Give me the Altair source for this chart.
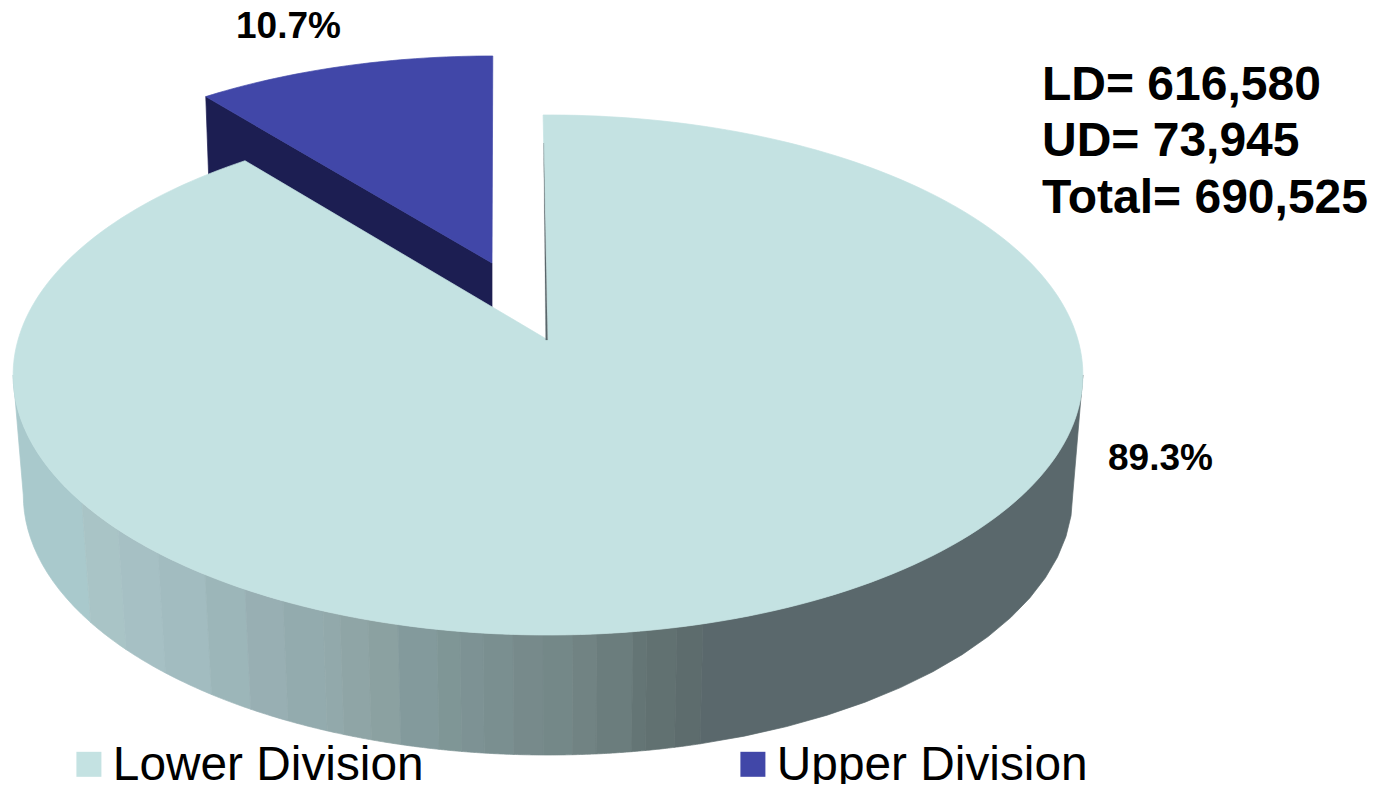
import numpy as np
import pandas as pd
import altair as alt

# ---- values
divisions = ["Lower Division", "Upper Division"]
short_names = ["LD", "UD"]
counts = [616580, 73945]
top_colors = ["#c4e2e2", "#4147a8"]
ud_wall_color = "#1c1e52"
cut_color = "#5a686c"
wall_edges = [12, 82, 118, 158, 205, 245, 283, 323, 340, 368, 398, 437, 460, 483,
              513, 543, 573, 597, 633, 647, 677, 703, 1090]
wall_shades = ["#a9c9cc", "#a9c4c6", "#a6c0c4", "#a2bcc0", "#9cb6b9", "#98afb3", "#93abae",
               "#92a9ab", "#8fa5a6", "#8ba1a1", "#839a9c", "#7f9696", "#7d9294", "#7a8f90",
               "#778a8b", "#748888", "#718383", "#6b7d7d", "#647575", "#617171", "#5d6c6d",
               "#5a686c"]

total = sum(counts)
shares = [c / total for c in counts]

# ---- perspective model of the disc (pixel units of the reference image)
K = 0.1346          # perspective foreshortening of the disc
A = 255.3           # depth radius
B = 530.0           # width radius
APEX = (548.0, 340.0)
DEPTH = 120.0
BOTTOM_SHRINK = 0.981
START = np.radians(-0.6)
UD_ROTATE = np.radians(0.7)


def disc(theta, apex=APEX, fx=1.0, fy=1.0):
    den = 1 + K * np.cos(theta)
    return apex[0] + fx * B * np.sin(theta) / den, apex[1] - fy * A * np.cos(theta) / den


def polygon(name, xs, ys, fill):
    return pd.DataFrame({"shape": name, "i": np.arange(len(xs)), "x": xs, "y": ys, "fill": fill})


sweep_ld = shares[0] * 2 * np.pi
ud_end = START + 2 * np.pi + UD_ROTATE
ud_start = START + sweep_ld + UD_ROTATE

# side wall of the lower division
limit = np.arccos(-K)
fine = np.linspace(limit, 2 * np.pi - limit, 2000)
fine_x, _ = disc(fine)
walls = []
for n, shade in enumerate(wall_shades):
    # facet edges are given in x, run left to right: theta falls as x grows
    t_hi = np.interp(wall_edges[n], fine_x[::-1], fine[::-1])
    t_lo = np.interp(wall_edges[n + 1], fine_x[::-1], fine[::-1])
    t = np.linspace(t_lo, t_hi, 16)
    xt, yt = disc(t)
    xb, yb = disc(t[::-1], apex=(APEX[0], APEX[1] + DEPTH), fx=BOTTOM_SHRINK)
    walls.append(polygon(f"wall{n:02d}", np.r_[xt, xb], np.r_[yt, yb], shade))
walls = pd.concat(walls)

# top face of lower division
t = np.linspace(START, START + sweep_ld, 240)
xt, yt = disc(t)
ld_top = polygon("ld", np.r_[APEX[0], xt], np.r_[APEX[1], yt], top_colors[0])
ld_top["division"] = divisions[0]

# exploded upper division
UD_APEX = (492.0, 263.0)
UD_FX, UD_FY = 0.96, 0.92
UD_DEPTH = 44.0
t = np.linspace(ud_start, ud_end, 40)
xt, yt = disc(t, apex=UD_APEX, fx=UD_FX, fy=UD_FY)
ud_top = polygon("ud", np.r_[UD_APEX[0], xt], np.r_[UD_APEX[1], yt], top_colors[1])
ud_top["division"] = divisions[1]
xl, yl = disc(np.array([ud_start]), apex=UD_APEX, fx=UD_FX, fy=UD_FY)
ud_wall = polygon("udw",
                  [xl[0], UD_APEX[0], UD_APEX[0], xl[0] + 3],
                  [yl[0], UD_APEX[1], UD_APEX[1] + UD_DEPTH + 3, yl[0] + 83],
                  ud_wall_color)

# the thin inner cut face
cut = polygon("cut", [543.6, 547.6, 545.7], [143, 340, 340], cut_color)

X = alt.X("x:Q", axis=None, scale=alt.Scale(domain=[8, 1379], nice=False, zero=False))
Y = alt.Y("y:Q", axis=None, scale=alt.Scale(domain=[784, 8], nice=False, zero=False))


def poly_layer(df, width=0.7):
    return alt.Chart(df).mark_line(strokeWidth=width, interpolate="linear-closed").encode(
        x=X, y=Y, order="i:Q", detail="shape:N",
        fill=alt.Fill("fill:N", scale=None),
        stroke=alt.Stroke("fill:N", scale=None),
    )


top_scale = alt.Scale(domain=divisions, range=top_colors)
legend = alt.Legend(
    title=None, orient="none", legendX=57, legendY=734, direction="horizontal", columns=2,
    columnPadding=305, symbolType="M-1,-1.14H1V0.86H-1Z", symbolSize=625, symbolStrokeWidth=0,
    labelFontSize=47.8, labelFont="Liberation Sans", labelColor="#000000", labelLimit=600,
    labelOffset=0, padding=0,
)


def top_layer(df):
    return alt.Chart(df).mark_line(strokeWidth=0.7, interpolate="linear-closed").encode(
        x=X, y=Y, order="i:Q", detail="shape:N",
        fill=alt.Fill("division:N", scale=top_scale, legend=legend),
        stroke=alt.Stroke("division:N", scale=top_scale, legend=None),
    )


labels = pd.DataFrame({
    "x": [236, 1108],
    "y": [38, 470],
    "text": [f"{shares[1] * 100:.1f}%", f"{shares[0] * 100:.1f}%"],
})
totals = pd.DataFrame({
    "x": [1042, 1042, 1042],
    "y": [100, 156, 213],
    "text": [f"{short_names[0]}= {counts[0]:,}", f"{short_names[1]}= {counts[1]:,}", f"Total= {total:,}"],
})


def text_layer(df, size):
    return alt.Chart(df).mark_text(
        font="Liberation Sans", fontWeight="bold", fontSize=size, align="left",
        baseline="alphabetic", color="#000000",
    ).encode(x=X, y=Y, text="text:N")


chart = alt.layer(
    poly_layer(ud_wall),
    top_layer(ud_top),
    poly_layer(walls),
    top_layer(ld_top),
    poly_layer(cut, 0.2),
    text_layer(labels, 37),
    text_layer(totals, 48),
).properties(
    width=1371, height=776, padding=0, autosize=alt.AutoSizeParams(type="none"),
).configure_view(stroke=None)

chart.save("out.html", embed_options={"renderer": "svg", "actions": False})
